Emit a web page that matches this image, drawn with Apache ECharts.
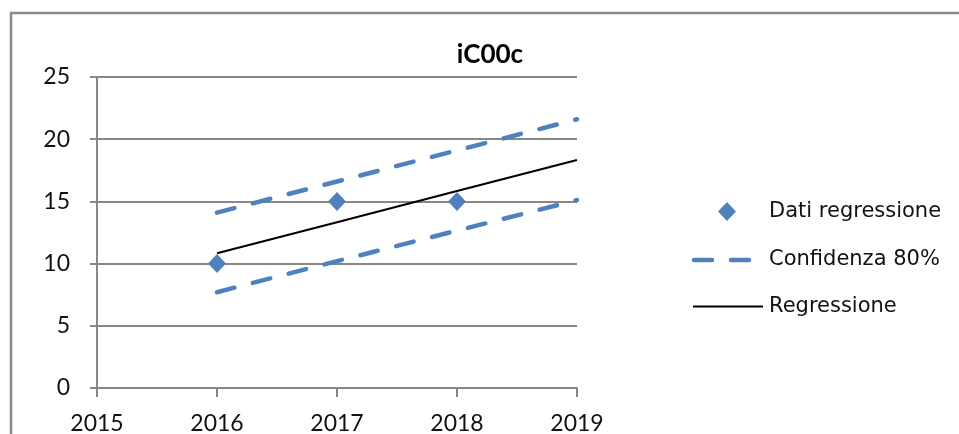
<!DOCTYPE html>
<html>
<head>
<meta charset="utf-8">
<script src="https://cdn.jsdelivr.net/npm/echarts@6/dist/echarts.min.js"></script>
<style>
  html, body { margin: 0; padding: 0; background: #ffffff; }
  #chart { width: 959px; height: 434px; }
</style>
</head>
<body>
<div id="chart"></div>
<script>
// Observed values and fitted regression with its 80% confidence band
const dataYears = [2016, 2017, 2018];
const dataValues = [10, 15, 15];
const fitYears = [2016, 2017, 2018, 2019];
const regression = [10.83, 13.33, 15.83, 18.33];
const upperBand = [14.1, 16.6, 19.1, 21.6];
const lowerBand = [7.7, 10.2, 12.65, 15.1];
const xTicks = [2015, 2016, 2017, 2018, 2019];
const yTicks = [0, 5, 10, 15, 20, 25];
const seriesNames = ['Dati regressione', 'Confidenza 80%', 'Regressione'];
const titleText = 'iC00c';

const BLUE = '#4f81bd';
const GRID_GRAY = '#878787';
const pair = (xs, ys) => xs.map((x, i) => [x, ys[i]]);

const chart = echarts.init(document.getElementById('chart'), null, { renderer: 'canvas' });

const dash = { type: [18, 19], cap: 'round' };
const labelFont = { fontFamily: 'Lato', fontSize: 23, color: '#111' };
const legendFont = { fontFamily: 'DejaVu Sans', fontSize: 21, fill: '#111', verticalAlign: 'middle' };

chart.setOption({
  animation: false,
  backgroundColor: '#ffffff',
  title: {
    text: titleText,
    left: 485, top: 37, textAlign: 'center',
    textStyle: { fontFamily: 'Lato', fontWeight: 'bold', fontSize: 26, color: '#000' }
  },
  grid: { left: 97, right: 382, top: 77, bottom: 46, containLabel: false, outerBoundsMode: 'none' },
  xAxis: {
    type: 'value',
    min: xTicks[0], max: xTicks[xTicks.length - 1], interval: 1,
    axisLine: { show: true, onZero: false, lineStyle: { color: GRID_GRAY, width: 2 } },
    axisTick: { show: true, length: 9, lineStyle: { color: GRID_GRAY, width: 2 } },
    axisLabel: Object.assign({ margin: 24, formatter: v => String(v) }, labelFont),
    splitLine: { show: false }
  },
  yAxis: {
    type: 'value',
    min: yTicks[0], max: yTicks[yTicks.length - 1], interval: 5,
    axisLine: { show: true, lineStyle: { color: GRID_GRAY, width: 2 } },
    axisTick: { show: true, length: 7, lineStyle: { color: GRID_GRAY, width: 2 } },
    axisLabel: Object.assign({ margin: 27, formatter: v => String(v) }, labelFont),
    splitLine: { show: true, lineStyle: { color: GRID_GRAY, width: 2 } }
  },
  series: [
    {
      name: seriesNames[1], type: 'line', data: pair(fitYears, upperBand),
      symbol: 'none', lineStyle: { color: BLUE, width: 4.5, type: dash.type, cap: dash.cap }, z: 3
    },
    {
      name: seriesNames[1] + ' inf', type: 'line', data: pair(fitYears, lowerBand),
      symbol: 'none', lineStyle: { color: BLUE, width: 4.5, type: dash.type, cap: dash.cap }, z: 3
    },
    {
      name: seriesNames[2], type: 'line', data: pair(fitYears, regression),
      symbol: 'none', lineStyle: { color: '#000', width: 2 }, z: 4
    },
    {
      name: seriesNames[0], type: 'scatter', data: pair(dataYears, dataValues),
      symbol: 'diamond', symbolSize: [18, 19], itemStyle: { color: BLUE, opacity: 1 }, z: 5
    }
  ],
  graphic: [
    // outer chart frame
    { type: 'rect', shape: { x: 11, y: 13, width: 1200, height: 600 },
      style: { fill: 'none', stroke: '#8a8a8a', lineWidth: 2.5 }, silent: true, z: 0 },
    // legend
    { type: 'polygon', shape: { points: [[727, 202], [736, 211.5], [727, 221], [718, 211.5]] },
      style: { fill: BLUE } },
    { type: 'text', x: 769, y: 212, style: Object.assign({ text: seriesNames[0] }, legendFont) },
    { type: 'line', shape: { x1: 694, y1: 260, x2: 750, y2: 260 },
      style: { stroke: BLUE, lineWidth: 4.5, lineDash: dash.type, lineCap: 'round' } },
    { type: 'text', x: 769, y: 260, style: Object.assign({ text: seriesNames[1] }, legendFont) },
    { type: 'line', shape: { x1: 693, y1: 306.5, x2: 763, y2: 306.5 },
      style: { stroke: '#000', lineWidth: 2 } },
    { type: 'text', x: 769, y: 307, style: Object.assign({ text: seriesNames[2] }, legendFont) }
  ]
});
</script>
</body>
</html>
